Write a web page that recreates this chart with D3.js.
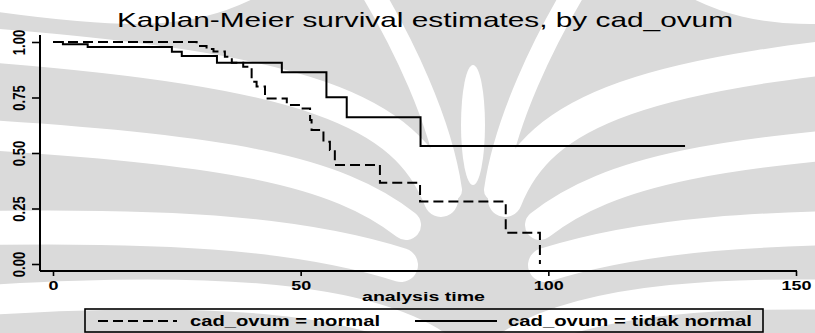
<!DOCTYPE html>
<html>
<head>
<meta charset="utf-8">
<script src="https://cdn.jsdelivr.net/npm/d3@7"></script>
<style>
  html, body { margin: 0; padding: 0; background: #fff; }
  svg { display: block; font-family: Arial, "Liberation Sans", Helvetica, sans-serif; }
</style>
</head>
<body>
<svg id="chart" width="815" height="333"></svg>
<script>
// Kaplan-Meier steps
const normalTime = [0, 29.0, 31.0, 32.4, 34.7, 36.1, 38.4, 40.1, 41.1, 42.8, 47.2, 49.9, 51.9, 52.2, 54.6, 55.9, 56.9, 66.0, 74.1, 91.4, 98.3];
const normalSurv = [1.0, 0.982, 0.968, 0.957, 0.934, 0.907, 0.889, 0.821, 0.80, 0.746, 0.716, 0.701, 0.649, 0.604, 0.551, 0.514, 0.446, 0.366, 0.281, 0.141, 0.0];
const tidakTime = [0, 2, 7, 24.0, 26.0, 33.1, 46.2, 55.2, 59.3, 74.2, 127.6];
const tidakSurv = [1.0, 0.99, 0.977, 0.956, 0.937, 0.907, 0.864, 0.751, 0.661, 0.532, 0.532];
const xTicks = [0, 50, 100, 150];
const yTicks = [0, 0.25, 0.5, 0.75, 1];
const legendLabels = ['cad_ovum = normal', 'cad_ovum = tidak normal'];

const svg = d3.select('#chart');

// background watermark (rough)
const wm = svg.append('g');
wm.append('rect').attr('width', 815).attr('height', 333).attr('fill', '#dadada');
const bands = [
  { d: 'M 505 200 C 540 110, 640 70, 960 45', w: 34 },
  { d: 'M 540 225 C 610 170, 720 150, 960 135', w: 30 },
  { d: 'M 545 265 C 640 235, 760 225, 960 228', w: 34 },
  { d: 'M 510 345 C 580 300, 720 285, 960 300', w: 30 },
  { d: 'M 575 -10 C 545 40, 505 120, 495 190', w: 22 },
  { d: 'M 700 -20 C 760 10, 820 10, 960 -10', w: 40 }
];
[0, 1].forEach(side => {
  const g = wm.append('g')
    .attr('transform', side ? 'translate(946,0) scale(-1,1)' : null);
  g.selectAll('path')
    .data(bands)
    .enter()
    .append('path')
    .attr('d', d => d.d)
    .attr('fill', 'none')
    .attr('stroke', '#fff')
    .attr('stroke-width', d => d.w)
    .attr('stroke-linecap', 'round');
});
wm.append('ellipse').attr('cx', 473).attr('cy', 125).attr('rx', 12).attr('ry', 60).attr('fill', '#fff');

const x = d3.scaleLinear().domain([0, 150]).range([53, 796]);
const y = d3.scaleLinear().domain([0, 1]).range([264, 42]);

// title
svg.append('text')
  .attr('x', 117).attr('y', 27)
  .attr('font-size', 21)
  .attr('textLength', 616)
  .attr('lengthAdjust', 'spacingAndGlyphs')
  .attr('fill', '#000')
  .text('Kaplan-Meier survival estimates, by cad_ovum');

// axes
const yAxis = svg.append('g')
  .attr('transform', 'translate(40,0)')
  .call(d3.axisLeft(y).tickValues(yTicks).tickSize(8).tickSizeOuter(0).tickFormat(d3.format('.2f')));
yAxis.select('.domain').remove();
yAxis.selectAll('line').attr('stroke', '#000').attr('stroke-width', 1.6);
yAxis.selectAll('text')
  .attr('x', 0).attr('dy', '0.35em')
  .attr('text-anchor', 'middle')
  .attr('font-size', 13).attr('font-weight', 'bold').attr('fill', '#000')
  .attr('transform', 'translate(-21,0) scale(1.3,1) rotate(-90)');

const xAxis = svg.append('g')
  .attr('transform', 'translate(0,271)')
  .call(d3.axisBottom(x).tickValues(xTicks).tickSize(5).tickSizeOuter(0));
xAxis.select('.domain').remove();
xAxis.selectAll('line').attr('stroke', '#000').attr('stroke-width', 1.6);
xAxis.selectAll('text')
  .attr('y', 10)
  .attr('font-size', 12).attr('font-weight', 'bold').attr('fill', '#000')
  .attr('transform', 'scale(1.5,1)');

svg.append('line').attr('x1', 40).attr('x2', 40).attr('y1', 35).attr('y2', 271)
  .attr('stroke', '#000').attr('stroke-width', 2);
svg.append('line').attr('x1', 40).attr('x2', 797).attr('y1', 271).attr('y2', 271)
  .attr('stroke', '#000').attr('stroke-width', 2);

svg.append('text')
  .attr('x', 362).attr('y', 301)
  .attr('font-size', 12).attr('font-weight', 'bold')
  .attr('textLength', 123).attr('lengthAdjust', 'spacingAndGlyphs')
  .text('analysis time');

// curves
const line = d3.line()
  .x(d => x(d[0]))
  .y(d => y(d[1]))
  .curve(d3.curveStepAfter);

svg.append('path')
  .datum(normalTime.map((t, i) => [t, normalSurv[i]]))
  .attr('d', line)
  .attr('fill', 'none').attr('stroke', '#000').attr('stroke-width', 2)
  .attr('stroke-dasharray', '10,5');

svg.append('path')
  .datum(tidakTime.map((t, i) => [t, tidakSurv[i]]))
  .attr('d', line)
  .attr('fill', 'none').attr('stroke', '#000').attr('stroke-width', 2);

// legend
svg.append('rect')
  .attr('x', 85).attr('y', 309).attr('width', 678).attr('height', 23)
  .attr('fill', 'none').attr('stroke', '#000').attr('stroke-width', 1.6);

const legendItems = [
  { x1: 98, x2: 177, tx: 190, tw: 190, dash: '10,5' },
  { x1: 415, x2: 497, tx: 508, tw: 244, dash: null }
];
legendItems.forEach((it, i) => {
  svg.append('line')
    .attr('x1', it.x1).attr('x2', it.x2).attr('y1', 321).attr('y2', 321)
    .attr('stroke', '#000').attr('stroke-width', 2)
    .attr('stroke-dasharray', it.dash);
  svg.append('text')
    .attr('x', it.tx).attr('y', 326)
    .attr('font-size', 14).attr('font-weight', 'bold')
    .attr('textLength', it.tw).attr('lengthAdjust', 'spacingAndGlyphs')
    .text(legendLabels[i]);
});
</script>
</body>
</html>
